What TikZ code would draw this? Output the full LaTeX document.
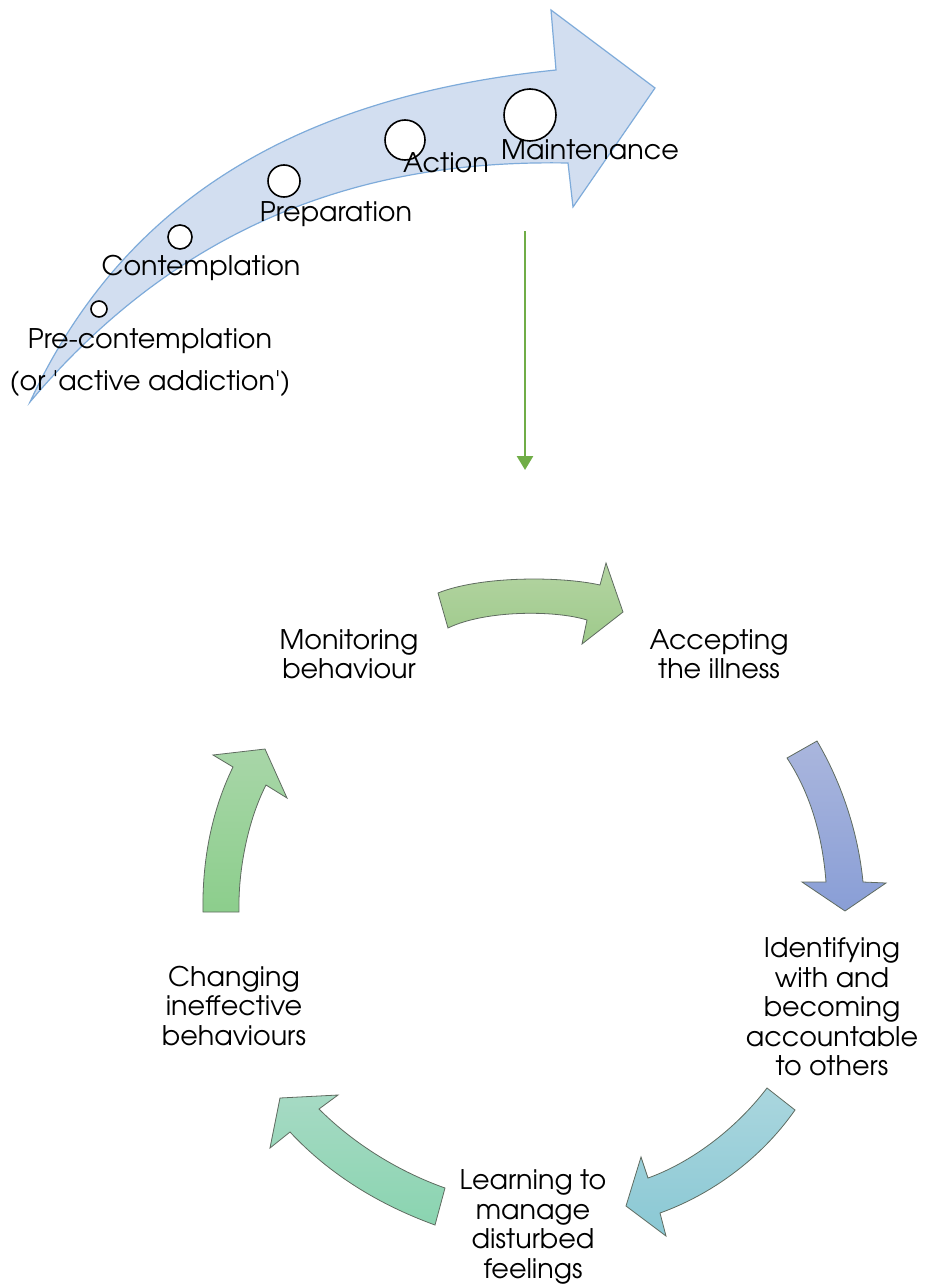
\documentclass[tikz,border=0pt]{standalone}
\usepackage{fontspec}
\setmainfont{TeX Gyre Adventor}
\usetikzlibrary{arrows.meta,positioning}

\definecolor{bandfill}{HTML}{D2DEF0}
\definecolor{bandline}{HTML}{7EABDA}
\definecolor{linkgreen}{HTML}{70AD47}
\definecolor{edgegray}{HTML}{5F6B60}
\definecolor{monitortop}{HTML}{B4D4A2}
\definecolor{monitorbot}{HTML}{9ECA8B}
\definecolor{accepttop}{HTML}{AAB6DD}
\definecolor{acceptbot}{HTML}{899ED6}
\definecolor{identtop}{HTML}{AAD6DE}
\definecolor{identbot}{HTML}{8AC8D4}
\definecolor{learntop}{HTML}{A6DAC4}
\definecolor{learnbot}{HTML}{8AD4B0}
\definecolor{changetop}{HTML}{A8D6A8}
\definecolor{changebot}{HTML}{8CCE8C}

\begin{document}
\begin{tikzpicture}[
  x=1pt, y=-1pt,
  lbl/.style={font=\fontsize{27}{29.5}\selectfont, inner sep=0pt, align=center},
  stagedot/.style={circle, draw=black, line width=1.6pt, fill=white, inner sep=0pt},
  cyc/.style={draw=edgegray, line width=0.8pt},
  link/.style={-{Triangle[length=14pt, width=16pt]}, line width=2.6pt, linkgreen}
]
\useasboundingbox (0,0) rectangle (924,1284);

% stages of change band
\draw[fill=bandfill, draw=bandline, line width=1.2pt]
  (30,402) .. controls (110,230) and (260,100) .. (556,70)
  -- (551,10) -- (655,88) -- (573,207) -- (568,163)
  .. controls (400,160) and (200,200) .. (30,402) -- cycle;

\node[stagedot, minimum size=16pt] (d1) at (99,309) {};
\node[stagedot, minimum size=24pt] (d2) at (180,237) {};
\node[stagedot, minimum size=32pt] (d3) at (284,181) {};
\node[stagedot, minimum size=40pt] (d4) at (405,140) {};
\node[stagedot, minimum size=52pt] (d5) at (530,115) {};

\node[lbl, font=\fontsize{27}{42}\selectfont] (s1) at (150,363) {Pre-contemplation\\(or \textquotesingle active addiction\textquotesingle)};
\node[lbl] (s2) at (201,268) {Contemplation};
\node[lbl] (s3) at (336,214) {Preparation};
\node[lbl] (s4) at (446,163) {Action};
\node[lbl] (s5) at (590,150) {Maintenance};

\coordinate (from) at (525,231);
\coordinate (to) at (525,470);
\draw[link] (from) -- (to);

% recovery cycle
\node[lbl] (accept) at (719,654) {Accepting\\the illness};
\node[lbl] (identify) at (832,1007) {Identifying\\with and\\becoming\\accountable\\to others};
\node[lbl] (learn) at (533,1227) {Learning to\\manage\\disturbed\\feelings};
\node[lbl] (change) at (234,1006) {Changing\\ineffective\\behaviours};
\node[lbl] (monitor) at (349,654) {Monitoring\\behaviour};

\draw[cyc, top color=monitortop, bottom color=monitorbot]
  (438,593) .. controls (480,576) and (560,576) .. (600,585)
  -- (606,563) -- (623,612) -- (582,644) -- (587,620)
  .. controls (555,610) and (485,610) .. (448,628) -- cycle;

\draw[cyc, top color=accepttop, bottom color=acceptbot]
  (817,741) .. controls (840,780) and (858,830) .. (863,882)
  -- (886,883) -- (845,911) -- (802,882) -- (826,882)
  .. controls (822,830) and (808,790) .. (787,758) -- cycle;

\draw[cyc, top color=identtop, bottom color=identbot]
  (795,1110) .. controls (760,1160) and (710,1195) .. (660,1213)
  -- (666,1236) -- (626,1206) -- (641,1157) -- (648,1178)
  .. controls (690,1163) and (735,1130) .. (767,1088) -- cycle;

\draw[cyc, top color=learntop, bottom color=learnbot]
  (435,1225) .. controls (380,1205) and (330,1175) .. (290,1132)
  -- (270,1148) -- (280,1098) -- (338,1095) -- (319,1109)
  .. controls (355,1145) and (400,1172) .. (445,1188) -- cycle;

\draw[cyc, top color=changetop, bottom color=changebot]
  (203,912) .. controls (202,860) and (212,810) .. (233,767)
  -- (213,755) -- (265,749) -- (287,798) -- (266,785)
  .. controls (248,820) and (238,870) .. (239,912) -- cycle;
\end{tikzpicture}
\end{document}
